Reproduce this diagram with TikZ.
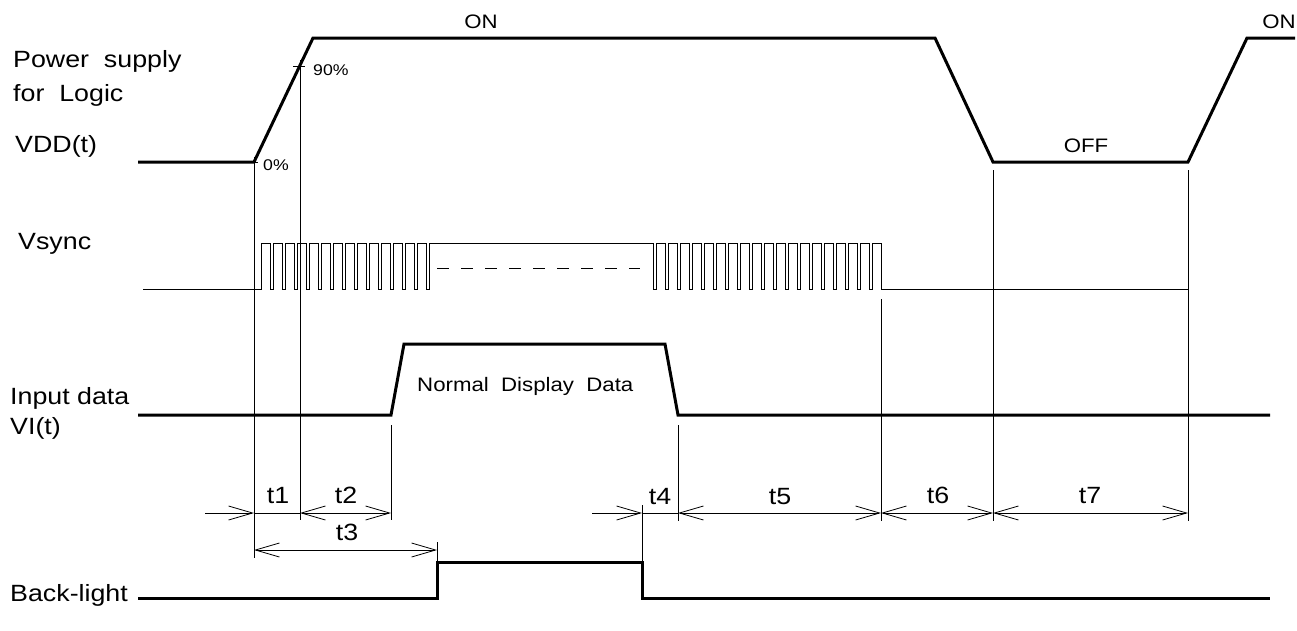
\documentclass[tikz,border=0pt]{standalone}
\usepackage{fontspec}
\setmainfont{Liberation Sans}[FakeStretch=1.14]
\usetikzlibrary{arrows.meta,calc}
\tikzset{
  fig/.style={x=1pt,y=-1pt},
  sig/.style={line width=3pt,line join=miter},
  vs/.style={line width=1pt},
  ext/.style={line width=0.8pt},
  dim/.style={-{Straight Barb[length=24pt,width=14pt]},line width=0.8pt},
  dimb/.style={{Straight Barb[length=24pt,width=14pt]}-{Straight Barb[length=24pt,width=14pt]},line width=0.8pt},
  lbl/.style={font=\fontsize{23.5}{28}\selectfont,inner sep=0pt},
  st/.style={font=\fontsize{19.5}{23}\selectfont,inner sep=0pt},
  pct/.style={font=\fontsize{15.5}{18}\selectfont,inner sep=0pt},
}

\begin{document}
\begin{tikzpicture}[fig]
\useasboundingbox (0,0) rectangle (1297,630);

% signal names
\node[lbl,anchor=base west] (ps)  at (13,67)  {Power~ supply};
\node[lbl,anchor=base west] (fl)  at (13,101) {for~ Logic};
\node[lbl,anchor=base west] (vdd) at (15,152) {VDD(t)};
\node[lbl,anchor=base west] (vsn) at (18,249) {Vsync};
\node[lbl,anchor=base west] (ind) at (10,404) {Input data};
\node[lbl,anchor=base west] (vi)  at (10,434) {VI(t)};
\node[lbl,anchor=base west] (bk)  at (10,601) {Back-light};

% event points
\coordinate (v0)   at (254,162);
\coordinate (v90)  at (300,66);
\coordinate (dr)   at (391,425);
\coordinate (bon)  at (437,562);
\coordinate (boff) at (642,562);
\coordinate (df)   at (678,425);
\coordinate (ve)   at (881,299);
\coordinate (off1) at (993,170);
\coordinate (off2) at (1188,170);
\coordinate (row)  at (0,513);
\coordinate (row3) at (0,550);

% VDD
\draw[sig] (138,162) -- (v0) -- (313,38) -- (935,38) -- (993,162)
  -- (1188,162) -- (1247,38) -- (1295,38);
\node[st,anchor=base] (on1)  at (481,28)   {ON};
\node[st,anchor=base] (on2)  at (1279,28)  {ON};
\node[st,anchor=base] (offl) at (1086,152) {OFF};
\draw[ext] (250,162) -- (258,162);
\draw[ext] (293,66) -- (305,66);
\node[pct,anchor=base west] (p0)  at (263,170) {0\%};
\node[pct,anchor=base west] (p90) at (313,75)  {90\%};

% Vsync
\draw[vs] (143,289) -- (261,289) -- (261,243)
  \foreach \k in {0,...,13}{ -- ({270+12*\k},243) -- ({270+12*\k},289)
    -- ({273.5+12*\k},289) -- ({273.5+12*\k},243)}
  \foreach \k in {0,...,18}{ -- ({653+12*\k},243) -- ({653+12*\k},289)
    -- ({656.5+12*\k},289) -- ({656.5+12*\k},243)}
  -- (881,243) -- (881,289) -- (1188,289);
\draw[vs,dash pattern=on 12pt off 12pt] (437,268) -- (640,268);

% Input data
\draw[sig] (138,415) -- (391,415) -- (404,344) -- (665,344) -- (678,415) -- (1270,415);
\node[st,anchor=base west] (nd) at (417,391) {Normal~ Display~ Data};

% Back-light
\draw[sig] (138,598) -- (437,598) -- (bon) -- (boff) -- (642,598) -- (1270,598);

% extension lines
\draw[ext] (254,157) -- (254,558);
\draw[ext] (300,60) -- (300,520);
\draw[ext] (dr) -- (dr |- 0,520);
\draw[ext] (437,542) -- (bon);
\draw[ext] (642,505) -- (boff);
\draw[ext] (df) -- (df |- 0,521);
\draw[ext] (ve) -- (ve |- 0,521);
\draw[ext] (off1) -- (off1 |- 0,521);
\draw[ext] (off2) -- (off2 |- 0,521);

% timing arrows
\draw[dim]  (205,513) -- (v0 |- row);
\draw[ext]  (v0 |- row) -- (v90 |- row);
\draw[dimb] (v90 |- row) -- (dr |- row);
\draw[dimb] (v0 |- row3) -- (bon |- row3);
\draw[dim]  (592,513) -- (boff |- row);
\draw[ext]  (boff |- row) -- (df |- row);
\draw[dimb] (df |- row) -- (ve |- row);
\draw[dimb] (ve |- row) -- (off1 |- row);
\draw[dimb] (off1 |- row) -- (off2 |- row);

\node[lbl,anchor=base] (t1) at (278,503)  {t1};
\node[lbl,anchor=base] (t2) at (346,503)  {t2};
\node[lbl,anchor=base] (t3) at (347,540)  {t3};
\node[lbl,anchor=base] (t4) at (660,504)  {t4};
\node[lbl,anchor=base] (t5) at (780,504)  {t5};
\node[lbl,anchor=base] (t6) at (938,503)  {t6};
\node[lbl,anchor=base] (t7) at (1090,503) {t7};

\end{tikzpicture}
\end{document}
